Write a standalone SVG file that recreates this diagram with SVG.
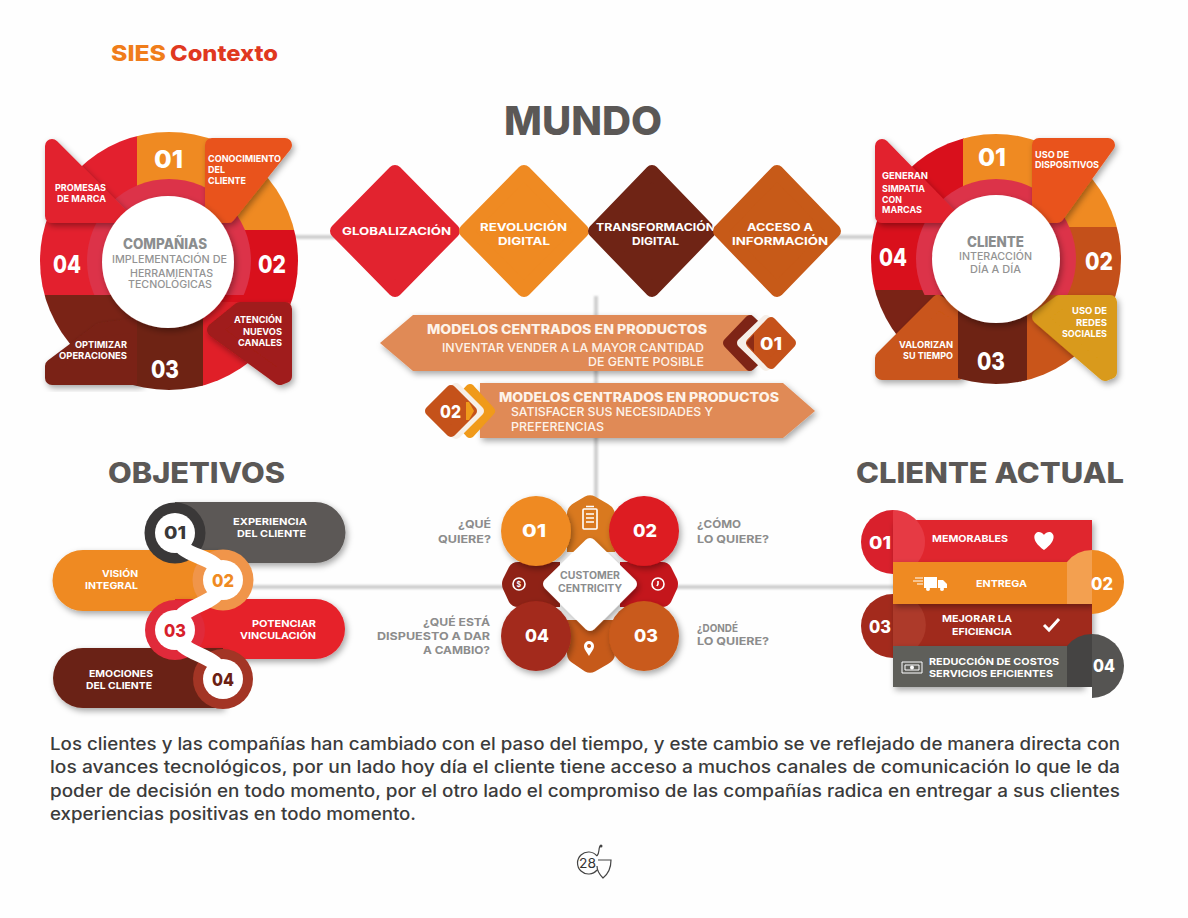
<svg xmlns="http://www.w3.org/2000/svg" width="1188" height="918" viewBox="0 0 1188 918">
<style>
text{font-family:Inter,"Liberation Sans",sans-serif;font-weight:700;fill:#fff}
.t{font-size:9.5px}
.d{font-size:11px}
.n{font-size:25px;font-weight:800}
.m{font-size:18px;font-weight:800}
.k{font-size:17px;font-weight:800}
.g{fill:#8b8d8e}
.gt{fill:#8b8d8e;font-size:14px;font-weight:800}
.gs{fill:#939393;font-size:10.5px;font-weight:500}
.q{fill:#8c8c8c;font-size:11px}
.h{font-size:28px;font-weight:800;fill:#5b5856}
.a{font-size:13px;font-weight:800;fill:#fdf3ea}
.as{font-size:12px;font-weight:500;fill:#fdf3ea}
.b{font-size:17px;font-weight:500;fill:#3b3b3b}
.tab{stroke-width:14;stroke-linejoin:round;filter:url(#sh)}
.dia{stroke-width:14;stroke-linejoin:round}
.ico{fill:none;stroke:#fff;stroke-width:1.6}
.ln{fill:none;stroke:#cfcfcf;stroke-width:4;filter:url(#soft)}
</style>
<defs>
<filter id="sh" x="-25%" y="-25%" width="150%" height="150%"><feDropShadow dx="2" dy="3" stdDeviation="3" flood-color="#000" flood-opacity=".35"/></filter>
<filter id="soft" x="-5%" y="-5%" width="110%" height="110%"><feGaussianBlur stdDeviation="1"/></filter>
<clipPath id="c1"><circle cx="169" cy="261" r="129"/></clipPath>
<clipPath id="c2"><circle cx="996" cy="259" r="125"/></clipPath>
<clipPath id="b1"><rect x="38" y="130" width="262" height="165"/></clipPath>
<clipPath id="b2"><rect x="868" y="130" width="256" height="165"/></clipPath>
</defs>
<rect width="1188" height="918" fill="#fefefe"/>

<g id="connectors">
<path class="ln" d="M290,237H340M835,237H880M596,296V500M245,587H510M670,587H895"/>
</g>

<g id="header">
<text x="111" y="61" textLength="55" lengthAdjust="spacingAndGlyphs" style="font-size:22px;font-weight:800;fill:#f07d1a">SIES</text>
<text x="170" y="61" textLength="108" lengthAdjust="spacingAndGlyphs" style="font-size:22px;font-weight:800;fill:#e0381f">Contexto</text>
<text x="504" y="135" textLength="158" lengthAdjust="spacingAndGlyphs" style="font-size:40px;font-weight:800;fill:#5b5856">MUNDO</text>
<text class="h" x="108" y="483" textLength="177" lengthAdjust="spacingAndGlyphs">OBJETIVOS</text>
<text class="h" x="856" y="483" textLength="268" lengthAdjust="spacingAndGlyphs">CLIENTE ACTUAL</text>
</g>

<g id="companias">
<g clip-path="url(#c1)">
<rect x="38" y="130" width="100" height="95" fill="#e3202e"/>
<rect x="137" y="130" width="69" height="100" fill="#ef8a22"/>
<rect x="206" y="130" width="94" height="100" fill="#ef8a22"/>
<rect x="206" y="230" width="94" height="72" fill="#d9101c"/>
<rect x="200" y="302" width="100" height="92" fill="#e01f28"/>
<rect x="38" y="295" width="99" height="99" fill="#7a2316"/>
<rect x="38" y="225" width="99" height="70" fill="#e3202e"/>
<circle cx="169" cy="261" r="82" fill="#dc3349" clip-path="url(#b1)"/>
</g>
<polygon class="tab" fill="#e2232f" stroke="#e2232f" points="52,146 122,216 52,216"/>
<polygon class="tab" fill="#e9531d" stroke="#e9531d" points="212,145 285,145 228,216 212,216"/>
<polygon class="tab" fill="#a01c1a" stroke="#a01c1a" points="214,330 240,309 285,309 285,376 280,378"/>
<polygon class="tab" fill="#7a2316" stroke="#7a2316" points="52,378 137,378 137,325 100,330 52,366"/>
<g clip-path="url(#c1)"><rect x="137" y="302" width="66" height="92" fill="#6e2314"/></g>
<circle cx="168" cy="262" r="66" fill="#fff" filter="url(#sh)"/>
<text class="n" x="154" y="168" textLength="29" lengthAdjust="spacingAndGlyphs">01</text>
<text class="n" x="258" y="273" textLength="28" lengthAdjust="spacingAndGlyphs">02</text>
<text class="n" x="151" y="378" textLength="28" lengthAdjust="spacingAndGlyphs">03</text>
<text class="n" x="53" y="273" textLength="28" lengthAdjust="spacingAndGlyphs">04</text>
<text class="t" x="208" y="162" textLength="73" lengthAdjust="spacingAndGlyphs">CONOCIMIENTO</text>
<text class="t" x="208" y="173" textLength="17" lengthAdjust="spacingAndGlyphs">DEL</text>
<text class="t" x="208" y="184" textLength="38" lengthAdjust="spacingAndGlyphs">CLIENTE</text>
<text class="t" x="55" y="191" textLength="51" lengthAdjust="spacingAndGlyphs">PROMESAS</text>
<text class="t" x="57" y="202" textLength="49" lengthAdjust="spacingAndGlyphs">DE MARCA</text>
<text class="t" x="234" y="323" textLength="48" lengthAdjust="spacingAndGlyphs">ATENCIÓN</text>
<text class="t" x="243" y="335" textLength="39" lengthAdjust="spacingAndGlyphs">NUEVOS</text>
<text class="t" x="238" y="346" textLength="44" lengthAdjust="spacingAndGlyphs">CANALES</text>
<text class="t" x="75" y="348" textLength="52" lengthAdjust="spacingAndGlyphs">OPTIMIZAR</text>
<text class="t" x="59" y="359" textLength="68" lengthAdjust="spacingAndGlyphs">OPERACIONES</text>
<text class="gt" x="123" y="249" textLength="84" lengthAdjust="spacingAndGlyphs">COMPAÑIAS</text>
<text class="gs" x="112" y="263" textLength="115" lengthAdjust="spacingAndGlyphs">IMPLEMENTACIÓN DE</text>
<text class="gs" x="130" y="277" textLength="83" lengthAdjust="spacingAndGlyphs">HERRAMIENTAS</text>
<text class="gs" x="128" y="288" textLength="84" lengthAdjust="spacingAndGlyphs">TECNOLÓGICAS</text>
</g>

<g id="cliente">
<g clip-path="url(#c2)">
<rect x="868" y="130" width="96" height="93" fill="#d9101c"/>
<rect x="963" y="130" width="69" height="100" fill="#ef8a22"/>
<rect x="1032" y="130" width="92" height="97" fill="#ef8a22"/>
<rect x="1032" y="227" width="92" height="68" fill="#c4501a"/>
<rect x="1020" y="295" width="104" height="92" fill="#c9551a"/>
<rect x="868" y="290" width="90" height="97" fill="#7a2316"/>
<rect x="868" y="223" width="96" height="67" fill="#d9101c"/>
<circle cx="996" cy="259" r="80" fill="#dc3349" clip-path="url(#b2)"/>
</g>
<polygon class="tab" fill="#e2232f" stroke="#e2232f" points="882,146 950,216 882,216"/>
<polygon class="tab" fill="#e9531d" stroke="#e9531d" points="1039,145 1108,145 1057,216 1039,216"/>
<polygon class="tab" fill="#d99a1a" stroke="#d99a1a" points="1039,317 1060,302 1110,302 1110,372 1105,374"/>
<polygon class="tab" fill="#c9551a" stroke="#c9551a" points="882,373 958,373 958,315 938,302 882,358"/>
<g clip-path="url(#c2)"><rect x="958" y="295" width="69" height="92" fill="#6e2314"/></g>
<circle cx="996" cy="259" r="64" fill="#fff" filter="url(#sh)"/>
<text class="n" x="978" y="166" textLength="28" lengthAdjust="spacingAndGlyphs">01</text>
<text class="n" x="1085" y="270" textLength="28" lengthAdjust="spacingAndGlyphs">02</text>
<text class="n" x="977" y="370" textLength="28" lengthAdjust="spacingAndGlyphs">03</text>
<text class="n" x="879" y="266" textLength="28" lengthAdjust="spacingAndGlyphs">04</text>
<text class="t" x="1035" y="158" textLength="34" lengthAdjust="spacingAndGlyphs">USO DE</text>
<text class="t" x="1035" y="168" textLength="64" lengthAdjust="spacingAndGlyphs">DISPOSITIVOS</text>
<text class="t" x="882" y="179" textLength="46" lengthAdjust="spacingAndGlyphs">GENERAN</text>
<text class="t" x="882" y="192" textLength="43" lengthAdjust="spacingAndGlyphs">SIMPATIA</text>
<text class="t" x="882" y="203" textLength="20" lengthAdjust="spacingAndGlyphs">CON</text>
<text class="t" x="882" y="213" textLength="40" lengthAdjust="spacingAndGlyphs">MARCAS</text>
<text class="t" x="1072" y="314" textLength="35" lengthAdjust="spacingAndGlyphs">USO DE</text>
<text class="t" x="1076" y="326" textLength="31" lengthAdjust="spacingAndGlyphs">REDES</text>
<text class="t" x="1062" y="337" textLength="45" lengthAdjust="spacingAndGlyphs">SOCIALES</text>
<text class="t" x="899" y="348" textLength="54" lengthAdjust="spacingAndGlyphs">VALORIZAN</text>
<text class="t" x="903" y="359" textLength="50" lengthAdjust="spacingAndGlyphs">SU TIEMPO</text>
<text class="gt" x="967" y="247" textLength="57" lengthAdjust="spacingAndGlyphs">CLIENTE</text>
<text class="gs" x="959" y="260" textLength="73" lengthAdjust="spacingAndGlyphs">INTERACCIÓN</text>
<text class="gs" x="970" y="273" textLength="51" lengthAdjust="spacingAndGlyphs">DÍA A DÍA</text>
</g>

<g id="globalizacion">
<polygon class="dia" fill="#e2232f" stroke="#e2232f" points="395,172 453,231 395,290 337,231"/>
<text class="d" x="342" y="235" textLength="109" lengthAdjust="spacingAndGlyphs">GLOBALIZACIÓN</text>
</g>
<g id="revolucion">
<polygon class="dia" fill="#ef8a22" stroke="#ef8a22" points="524,172 582,231 524,290 466,231"/>
<text class="d" x="480" y="231" textLength="87" lengthAdjust="spacingAndGlyphs">REVOLUCIÓN</text>
<text class="d" x="498" y="245" textLength="52" lengthAdjust="spacingAndGlyphs">DIGITAL</text>
</g>
<g id="transformacion">
<polygon class="dia" fill="#6f2415" stroke="#6f2415" points="652,172 709,231 652,290 595,231"/>
<text class="d" x="596" y="231" textLength="119" lengthAdjust="spacingAndGlyphs">TRANSFORMACIÓN</text>
<text class="d" x="632" y="245" textLength="47" lengthAdjust="spacingAndGlyphs">DIGITAL</text>
</g>
<g id="acceso">
<polygon class="dia" fill="#c75a18" stroke="#c75a18" points="777,172 834,231 777,290 720,231"/>
<text class="d" x="747" y="231" textLength="66" lengthAdjust="spacingAndGlyphs">ACCESO A</text>
<text class="d" x="732" y="245" textLength="96" lengthAdjust="spacingAndGlyphs">INFORMACIÓN</text>
</g>

<g id="modelo1">
<polygon fill="#e08a56" filter="url(#sh)" points="380,343 413,315 752,315 752,371 413,371"/>
<polygon fill="#7e2416" stroke="#7e2416" stroke-width="10" stroke-linejoin="round" points="750,320 774,343 750,366 728,343"/>
<polygon fill="#f6efe8" stroke="#f6efe8" stroke-width="10" stroke-linejoin="round" points="766,320 790,343 766,366 742,343"/>
<polygon fill="#c5521a" stroke="#c5521a" stroke-width="10" stroke-linejoin="round" points="771,322 791,343 771,364 751,343"/>
<path d="M746,343l8,-9v18z" fill="#8c2b15"/>
<text class="a" x="427" y="334" textLength="280" lengthAdjust="spacingAndGlyphs">MODELOS CENTRADOS EN PRODUCTOS</text>
<text class="as" x="442" y="352" textLength="262" lengthAdjust="spacingAndGlyphs">INVENTAR VENDER A LA MAYOR CANTIDAD</text>
<text class="as" x="588" y="366" textLength="116" lengthAdjust="spacingAndGlyphs">DE GENTE POSIBLE</text>
<text class="m" x="760" y="350" textLength="22" lengthAdjust="spacingAndGlyphs">01</text>
</g>
<g id="modelo2">
<polygon fill="#e08a56" filter="url(#sh)" points="480,383 783,383 815,411 783,438 480,438"/>
<polygon fill="#f09a1a" stroke="#f09a1a" stroke-width="10" stroke-linejoin="round" points="470,389 490,411 470,433 450,411"/>
<polygon fill="#f6efe8" stroke="#f6efe8" stroke-width="10" stroke-linejoin="round" points="456,388 479,411 456,434 433,411"/>
<polygon fill="#c5521a" stroke="#c5521a" stroke-width="10" stroke-linejoin="round" points="451,390 472,411 451,432 430,411"/>
<path d="M466,402h3l5,9l-5,9h-3z" fill="#f09a1a"/>
<text class="a" x="499" y="402" textLength="280" lengthAdjust="spacingAndGlyphs">MODELOS CENTRADOS EN PRODUCTOS</text>
<text class="as" x="511" y="416" textLength="202" lengthAdjust="spacingAndGlyphs">SATISFACER SUS NECESIDADES Y</text>
<text class="as" x="511" y="431" textLength="93" lengthAdjust="spacingAndGlyphs">PREFERENCIAS</text>
<text class="m" x="440" y="418" textLength="21" lengthAdjust="spacingAndGlyphs">02</text>
</g>

<g id="objetivos">
<path fill="#5b5856" filter="url(#sh)" d="M175,502H315a30.500,30.500 0 0 1 0,61H175z"/>
<path fill="#ef8a22" filter="url(#sh)" d="M223,550H83a30.500,30.500 0 0 0 0,61H223z"/>
<path fill="#e6222a" filter="url(#sh)" d="M175,599H315a30,30 0 0 1 0,60H175z"/>
<path fill="#6b2113" filter="url(#sh)" d="M223,648H83a30,30 0 0 0 0,60H223z"/>
<circle cx="175" cy="533" r="30.500" fill="#3a3838"/>
<circle cx="223" cy="580" r="30.500" fill="#f0954a"/>
<circle cx="175" cy="630" r="30" fill="#e02a3a"/>
<circle cx="223" cy="679" r="30" fill="#a33525"/>
<path d="M175,533C178,562 220,551 223,580C220,609 178,601 175,630C178,659 220,650 223,679" fill="none" stroke="#fff" stroke-width="15"/>
<circle cx="175" cy="533" r="20" fill="#fff"/>
<circle cx="223" cy="580" r="20" fill="#fff"/>
<circle cx="175" cy="630" r="20" fill="#fff"/>
<circle cx="223" cy="679" r="20" fill="#fff"/>
<text class="m" x="164" y="539" textLength="22" lengthAdjust="spacingAndGlyphs" style="fill:#3a3838">01</text>
<text class="m" x="212" y="587" textLength="22" lengthAdjust="spacingAndGlyphs" style="fill:#ef8a22">02</text>
<text class="m" x="164" y="637" textLength="22" lengthAdjust="spacingAndGlyphs" style="fill:#d71f2c">03</text>
<text class="m" x="212" y="686" textLength="22" lengthAdjust="spacingAndGlyphs" style="fill:#6b2113">04</text>
<text class="t" x="233" y="525" textLength="74" lengthAdjust="spacingAndGlyphs">EXPERIENCIA</text>
<text class="t" x="237" y="537" textLength="69" lengthAdjust="spacingAndGlyphs">DEL CLIENTE</text>
<text class="t" x="102" y="577" textLength="36" lengthAdjust="spacingAndGlyphs">VISIÓN</text>
<text class="t" x="85" y="589" textLength="53" lengthAdjust="spacingAndGlyphs">INTEGRAL</text>
<text class="t" x="252" y="627" textLength="64" lengthAdjust="spacingAndGlyphs">POTENCIAR</text>
<text class="t" x="240" y="639" textLength="76" lengthAdjust="spacingAndGlyphs">VINCULACIÓN</text>
<text class="t" x="89" y="677" textLength="64" lengthAdjust="spacingAndGlyphs">EMOCIONES</text>
<text class="t" x="86" y="689" textLength="66" lengthAdjust="spacingAndGlyphs">DEL CLIENTE</text>
</g>

<g id="centricity">
<path fill="#d9791f" d="M567,552V514Q567,507 574,503L585,496.500Q590,494 595,496.500L608,504Q615,508 615,515V552z"/>
<path fill="#8f2216" d="M560,562H518Q512,562 509,567L503,579Q501,584 503,589L509,602Q512,607 518,607H560z"/>
<path fill="#c4161c" d="M620,562H662Q668,562 671,567L677,579Q679,584 677,589L671,602Q668,607 662,607H620z"/>
<path fill="#c65a1a" d="M567,620V654Q567,660 574,664L585,671.500Q590,674 595,671.500L608,664Q615,660 615,654V620z"/>
<circle cx="536" cy="531" r="35" fill="#ef8a22" filter="url(#sh)"/>
<circle cx="644" cy="531" r="35" fill="#dd1a20" filter="url(#sh)"/>
<circle cx="644" cy="636" r="35" fill="#c95a1a" filter="url(#sh)"/>
<circle cx="536" cy="636" r="35" fill="#a32a1c" filter="url(#sh)"/>
<polygon fill="#fff" stroke="#fff" stroke-width="12" stroke-linejoin="round" filter="url(#sh)" points="590,544 631,584 590,625 549,584"/>
<text class="m" x="522" y="537" textLength="24" lengthAdjust="spacingAndGlyphs">01</text>
<text class="m" x="633" y="537" textLength="24" lengthAdjust="spacingAndGlyphs">02</text>
<text class="m" x="634" y="642" textLength="24" lengthAdjust="spacingAndGlyphs">03</text>
<text class="m" x="525" y="642" textLength="24" lengthAdjust="spacingAndGlyphs">04</text>
<rect class="ico" x="583" y="509" width="14" height="20" rx="1"/>
<path class="ico" d="M586,506.500h8M586,514h8M586,518h8M586,522h8" stroke-width="1.200"/>
<circle class="ico" cx="519" cy="584" r="6"/>
<text x="516.500" y="587" style="font-size:7px">$</text>
<circle class="ico" cx="658" cy="584" r="6"/>
<path class="ico" d="M658,581v3l-1,2"/>
<path fill="#fff" fill-rule="evenodd" d="M589,656c-3,-5 -5,-7 -5,-10a5,5 0 0 1 10,0c0,3 -2,5 -5,10zM589,644a2,2 0 1 0 .1,0z"/>
<text class="g" x="560" y="579" textLength="60" lengthAdjust="spacingAndGlyphs" style="font-size:10px">CUSTOMER</text>
<text class="g" x="558" y="592" textLength="64" lengthAdjust="spacingAndGlyphs" style="font-size:10px">CENTRICITY</text>
<text class="q" x="458" y="528" textLength="33" lengthAdjust="spacingAndGlyphs">¿QUÉ</text>
<text class="q" x="438" y="543" textLength="53" lengthAdjust="spacingAndGlyphs">QUIERE?</text>
<text class="q" x="697" y="528" textLength="44" lengthAdjust="spacingAndGlyphs">¿CÓMO</text>
<text class="q" x="697" y="543" textLength="72" lengthAdjust="spacingAndGlyphs">LO QUIERE?</text>
<text class="q" x="423" y="626" textLength="67" lengthAdjust="spacingAndGlyphs">¿QUÉ ESTÁ</text>
<text class="q" x="377" y="640" textLength="113" lengthAdjust="spacingAndGlyphs">DISPUESTO A DAR</text>
<text class="q" x="423" y="654" textLength="67" lengthAdjust="spacingAndGlyphs">A CAMBIO?</text>
<text class="q" x="697" y="632" textLength="41" lengthAdjust="spacingAndGlyphs">¿DONDÉ</text>
<text class="q" x="697" y="645" textLength="72" lengthAdjust="spacingAndGlyphs">LO QUIERE?</text>
</g>

<g id="cliente-actual">
<path fill="#d9202c" d="M893,510A32,32 0 0 0 893,574z"/>
<rect x="893" y="520" width="199" height="43" fill="#e0252d" filter="url(#sh)"/>
<path fill="#e63a44" d="M893,510A32,32 0 0 1 918,562H893z"/>
<path fill="#a32a1c" d="M893,594A32,32 0 0 0 893,658z"/>
<rect x="893" y="604" width="199" height="42" fill="#a02a1c" filter="url(#sh)"/>
<path fill="#ad3a2a" d="M893,604H918A32,32 0 0 1 918,646H893z"/>
<rect x="893" y="562" width="199" height="42" fill="#ef8a22" filter="url(#sh)"/>
<path fill="#ef8a22" d="M1092,550A32,32 0 0 1 1092,614z"/>
<path fill="#f3a050" d="M1092,550A32,32 0 0 0 1067,562V604H1092z"/>
<rect x="893" y="646" width="190" height="41" fill="#5f5e5a" filter="url(#sh)"/>
<path fill="#555452" d="M1092,634A32,32 0 0 1 1092,698z"/>
<path fill="#454443" d="M1092,634A32,32 0 0 0 1067,646V687H1092z"/>
<text class="k" x="869" y="549" textLength="22" lengthAdjust="spacingAndGlyphs">01</text>
<text class="k" x="1091" y="590" textLength="22" lengthAdjust="spacingAndGlyphs">02</text>
<text class="k" x="869" y="633" textLength="22" lengthAdjust="spacingAndGlyphs">03</text>
<text class="k" x="1093" y="672" textLength="22" lengthAdjust="spacingAndGlyphs">04</text>
<text class="t" x="932" y="542" textLength="76" lengthAdjust="spacingAndGlyphs">MEMORABLES</text>
<path fill="#fff" d="M1044,550C1030,540 1034,532 1039,532C1042,532 1044,535 1044,535C1044,535 1046,532 1049,532C1054,532 1058,540 1044,550z"/>
<text class="t" x="976" y="587" textLength="51" lengthAdjust="spacingAndGlyphs">ENTREGA</text>
<path fill="#fff" d="M924,577h13v11h-13zM938,580h5l4,4v4h-9z"/>
<circle cx="928" cy="589" r="2" fill="#fff"/>
<circle cx="942" cy="589" r="2" fill="#fff"/>
<path stroke="#fff" d="M915,578h8M913,581h10M917,584h6"/>
<text class="t" x="942" y="622" textLength="70" lengthAdjust="spacingAndGlyphs">MEJORAR LA</text>
<text class="t" x="952" y="635" textLength="60" lengthAdjust="spacingAndGlyphs">EFICIENCIA</text>
<path fill="none" stroke="#fff" stroke-width="3" d="M1044,625l5,5l10,-11"/>
<text class="t" x="929" y="665" textLength="130" lengthAdjust="spacingAndGlyphs">REDUCCIÓN DE COSTOS</text>
<text class="t" x="929" y="677" textLength="124" lengthAdjust="spacingAndGlyphs">SERVICIOS EFICIENTES</text>
<path fill="none" stroke="#fff" d="M902,662h20v11h-20zM905,665h14v5h-14z"/>
<circle cx="912" cy="667.500" r="2" fill="#fff"/>
</g>

<g id="texto">
<text class="b" x="50" y="750" textLength="1070" lengthAdjust="spacingAndGlyphs">Los clientes y las compañías han cambiado con el paso del tiempo, y este cambio se ve reflejado de manera directa con</text>
<text class="b" x="50" y="773" textLength="1070" lengthAdjust="spacingAndGlyphs">los avances tecnológicos, por un lado hoy día el cliente tiene acceso a muchos canales de comunicación lo que le da</text>
<text class="b" x="50" y="797" textLength="1070" lengthAdjust="spacingAndGlyphs">poder de decisión en todo momento, por el otro lado el compromiso de las compañías radica en entregar a sus clientes</text>
<text class="b" x="50" y="820" textLength="366" lengthAdjust="spacingAndGlyphs">experiencias positivas en todo momento.</text>
</g>

<g id="pagina">
<path fill="none" stroke="#444" stroke-width="1.200" d="M597,856A11,11 0 1 0 597,870M597,856C600,852 598,850 600,846M598,860H611C611,868 608,874 603,878C600,875 597,870 597,866"/>
<circle cx="601" cy="846" r="1.500" fill="#444"/>
<text x="579" y="868" textLength="17" lengthAdjust="spacingAndGlyphs" style="font-size:13px;font-weight:400;fill:#333">28</text>
</g>
</svg>
